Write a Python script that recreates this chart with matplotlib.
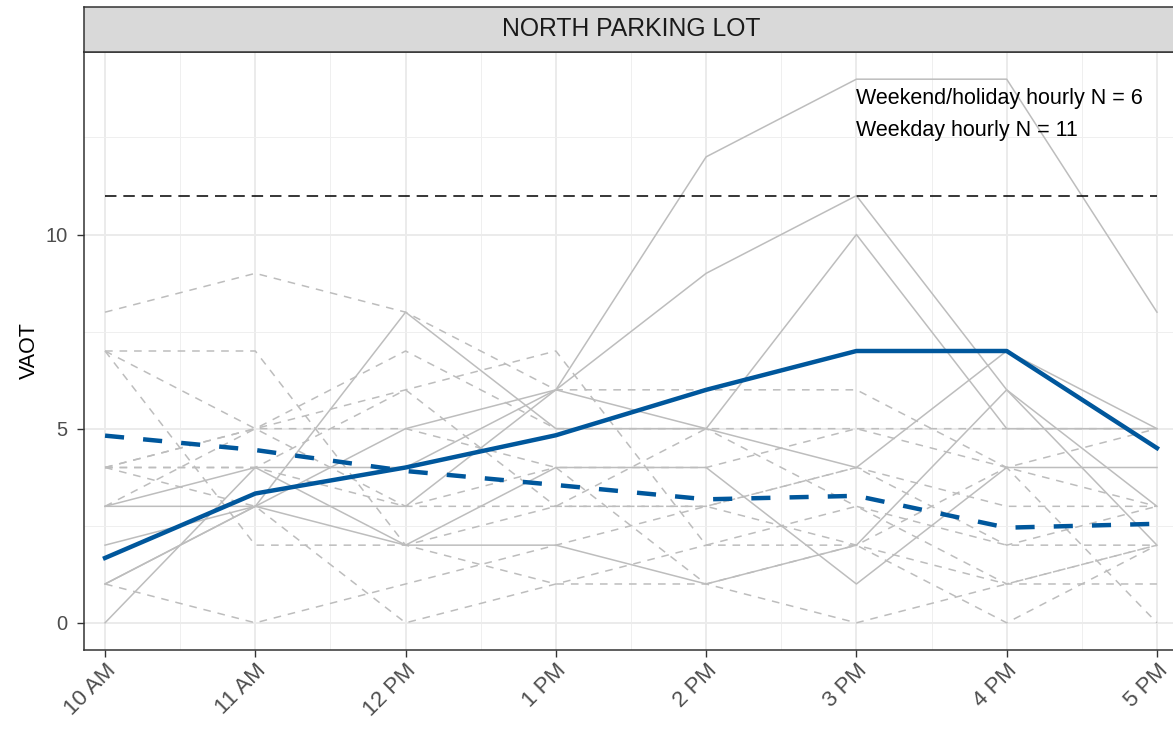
import matplotlib
matplotlib.use("Agg")
import matplotlib.pyplot as plt
import numpy as np

plt.rcParams['font.family'] = ['Liberation Sans', 'DejaVu Sans']

# ---------------- data ----------------
hours = ["10 AM", "11 AM", "12 PM", "1 PM", "2 PM", "3 PM", "4 PM", "5 PM"]

# weekend / holiday hourly counts (solid grey)
weekend_1 = [3, 4, 4, 6, 12, 14, 14, 8]
weekend_2 = [0, 4, 2, 4, 4, 1, 4, 4]
weekend_3 = [3, 3, 8, 5, 5, 10, 5, 5]
weekend_4 = [2, 3, 5, 6, 9, 11, 6, 3]
weekend_5 = [1, 3, 3, 6, 5, 4, 7, 5]
weekend_6 = [1, 3, 2, 2, 1, 2, 6, 2]

# weekday hourly counts (dashed grey)
weekday_1 = [8, 9, 8, 6, 6, 6, 4, 5]
weekday_2 = [7, 7, 2, 3, 5, 5, 5, 5]
weekday_3 = [7, 5, 7, 5, 5, 3, 2, 2]
weekday_4 = [7, 2, 2, 1, 1, 0, 1, 2]
weekday_5 = [4, 5, 6, 7, 2, 3, 1, 2]
weekday_6 = [4, 4, 6, 3, 3, 4, 3, 3]
weekday_7 = [4, 3, 0, 1, 2, 2, 4, 0]
weekday_8 = [1, 0, 1, 2, 3, 4, 2, 3]
weekday_9 = [4, 4, 3, 3, 3, 2, 1, 1]
weekday_10 = [4, 5, 5, 4, 4, 5, 4, 3]
weekday_11 = [3, 5, 3, 4, 1, 2, 0, 2]

# hourly means (blue)
weekend_mean = [1.67, 3.33, 4.0, 4.83, 6.0, 7.0, 7.0, 4.5]
weekday_mean = [4.82, 4.45, 3.91, 3.55, 3.18, 3.27, 2.45, 2.55]

capacity_line = 11
label_weekend = "Weekend/holiday hourly N = 6"
label_weekday = "Weekday hourly N = 11"
facet_title = "NORTH PARKING LOT"
y_title = "VAOT"

weekend_lines = [weekend_1, weekend_2, weekend_3, weekend_4, weekend_5, weekend_6]
weekday_lines = [weekday_1, weekday_2, weekday_3, weekday_4, weekday_5, weekday_6,
                 weekday_7, weekday_8, weekday_9, weekday_10, weekday_11]

# ---------------- figure ----------------
W, H = 1173, 730
fig = plt.figure(figsize=(W / 100, H / 100), dpi=100)
L, R, B, T = 84, 1178, 650, 52
ax = fig.add_axes([L / W, 1 - B / H, (R - L) / W, (B - T) / H])
strip = fig.add_axes([L / W, 1 - T / H, (R - L) / W, (T - 7) / H])

x = np.arange(len(hours))
grey = '#BDBDBD'
blue = '#00579C'

# grid
ax.set_axisbelow(True)
ax.set_yticks([0, 5, 10])
ax.set_yticks([2.5, 7.5, 12.5], minor=True)
ax.set_xticks(x)
ax.set_xticks(x[:-1] + 0.5, minor=True)
ax.grid(which='major', color='#EBEBEB', lw=1.4)
ax.grid(which='minor', color='#EFEFEF', lw=0.7)
ax.tick_params(which='minor', length=0)

for line in weekday_lines:
    ax.plot(x, line, color=grey, lw=1.1, ls=(0, (5, 4.5)))
for line in weekend_lines:
    ax.plot(x, line, color=grey, lw=1.1)

ax.plot([x[0], x[-1]], [capacity_line, capacity_line], color='black', lw=1.1,
        ls=(0, (7.5, 4.5)))

ax.plot(x, weekday_mean, color=blue, lw=3.2, ls=(0, (4.3, 4.3)))
ax.plot(x, weekend_mean, color=blue, lw=3.2, solid_joinstyle='round')

ax.text(x[5], 13.5, label_weekend, fontsize=15.5, ha='left', va='center', color='black')
ax.text(x[5], 12.68, label_weekday, fontsize=15.5, ha='left', va='center', color='black')

ax.set_xlim(-0.14, 7.14)
ax.set_ylim(-0.7, 14.7)

ax.set_xticklabels(hours, rotation=45, ha='right', va='top', rotation_mode='anchor')
ax.tick_params(which='major', length=5, width=1, color='#333333', labelcolor='#4D4D4D')
ax.tick_params(axis='x', which='major', labelsize=16, pad=2)
ax.tick_params(axis='y', which='major', labelsize=14.5, pad=7)
ax.set_ylabel(y_title, fontsize=15.5, color='black')
ax.yaxis.set_label_coords(-0.04, 0.5)

for s in ax.spines.values():
    s.set_color('#333333')
    s.set_linewidth(1.1)

strip.set_facecolor('#D9D9D9')
strip.set_xticks([])
strip.set_yticks([])
for s in strip.spines.values():
    s.set_color('#333333')
    s.set_linewidth(1.1)
strip.text(0.5, 0.5, facet_title, transform=strip.transAxes, ha='center', va='center',
           fontsize=17.8, color='#1A1A1A')

fig.savefig('out.png', dpi=100)
